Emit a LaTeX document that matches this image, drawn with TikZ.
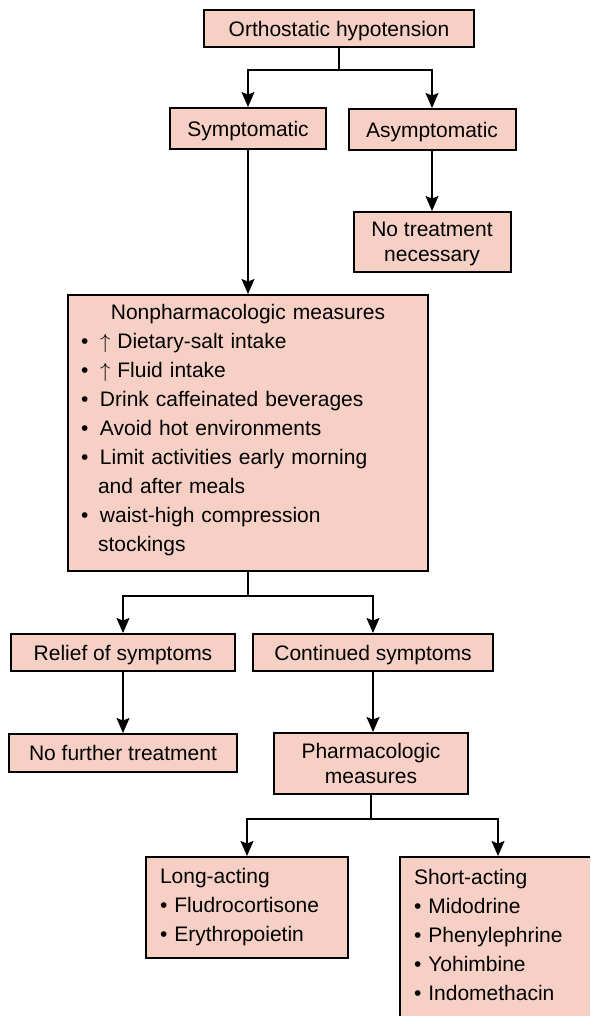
\documentclass[tikz,border=0pt]{standalone}
\usepackage{fontspec}
\setmainfont{Liberation Sans}
\usetikzlibrary{arrows.meta}
\setlength{\parindent}{0pt}

\definecolor{boxfill}{RGB}{246,208,196}

% list lines inside the boxes
\newcommand{\itm}{\par\makebox[19pt][l]{\textbullet}}
\newcommand{\cnt}{\par\hspace*{17pt}}
\newcommand{\sitm}{\par\textbullet\ }

\begin{document}
\begin{tikzpicture}[x=1pt, y=-1pt,
  % Box styles
  boxbase/.style={rectangle, draw=black, fill=boxfill, line width=2pt},
  flowbox/.style={boxbase, align=center, inner sep=0pt, text depth=0pt,
    font=\fontsize{21}{24.5}\selectfont},
  listbox/.style={boxbase, align=left, inner xsep=13pt, inner ysep=0pt,
    font=\fontsize{21}{29}\selectfont},
  % Arrow style
  flow/.style={-{Stealth[length=15pt, width=13pt, inset=2.5pt]}, line width=1.5pt},
]

% Page size
\useasboundingbox (0,0) rectangle (590,1016);
\clip (0,0) rectangle (590,1016);

% Branch drop below a box
\def\drop{22}

% --- Top: diagnosis ---
\node[flowbox, minimum width=270, minimum height=37] (ortho) at (339,28.5)
  {Orthostatic hypotension};

% --- Row 1: symptoms or not ---
\node[flowbox, minimum width=156, minimum height=41] (sympt) at (248,128.5)
  {Symptomatic};
\node[flowbox, minimum width=167, minimum height=41] (asympt) at (432,129.5)
  {Asymptomatic};
\node[flowbox, minimum width=157, minimum height=60] (notreat) at (432,242)
  {No treatment\\necessary};

% --- Row 2: nonpharmacologic measures ---
\node[listbox, text width=334, text height=9pt, minimum height=276] (nonpharm) at (248,433)
  {{\centering Nonpharmacologic measures\par}
   \itm $\uparrow$ Dietary-salt intake
   \itm $\uparrow$ Fluid intake
   \itm Drink caffeinated beverages
   \itm Avoid hot environments
   \itm Limit activities early morning
   \cnt and after meals
   \itm waist-high compression
   \cnt stockings};

% --- Row 3: outcome ---
\node[flowbox, minimum width=224, minimum height=37] (relief) at (123,652.5)
  {Relief of symptoms};
\node[flowbox, minimum width=240, minimum height=37] (contd) at (373,652.5)
  {Continued symptoms};
\node[flowbox, minimum width=228, minimum height=38] (nofurther) at (123,753)
  {No further treatment};
\node[flowbox, minimum width=194, minimum height=61] (pharm) at (371,763.5)
  {Pharmacologic\\measures};

% --- Row 4: drugs ---
\node[listbox, text width=174, inner xsep=14pt, minimum height=101] (longact) at (247,907.5)
  {Long-acting
   \sitm Fludrocortisone
   \sitm Erythropoietin};
\node[listbox, text width=168, inner xsep=14pt, text height=9pt, minimum height=162] (shortact) at (498,938)
  {Short-acting
   \sitm Midodrine
   \sitm Phenylephrine
   \sitm Yohimbine
   \sitm Indomethacin};

% Connectors
\draw[flow] (ortho.south) -- ++(0,\drop) -| (sympt.north);
\draw[flow] (ortho.south) -- ++(0,\drop) -| (asympt.north);
\draw[flow] (sympt.south) -- (nonpharm.north);
\draw[flow] (asympt.south) -- (notreat.north);
\draw[flow] (nonpharm.south) -- ++(0,24) -| (relief.north);
\draw[flow] (nonpharm.south) -- ++(0,24) -| (contd.north);
\draw[flow] (relief.south) -- (nofurther.north);
\draw[flow] (contd.south) -- (contd.south |- pharm.north);
\draw[flow] (pharm.south) -- ++(0,24) -| (longact.north);
\draw[flow] (pharm.south) -- ++(0,24) -| (shortact.north);

\end{tikzpicture}
\end{document}
